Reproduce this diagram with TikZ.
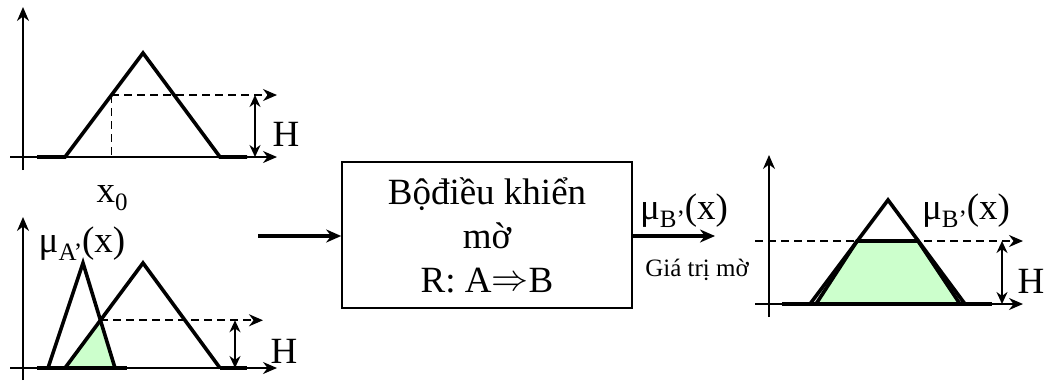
\documentclass[tikz,border=0pt]{standalone}
\usepackage{fontspec}
\setmainfont{Liberation Serif}
\usetikzlibrary{arrows.meta,calc}
\newcommand{\bigfont}{\fontsize{37}{44}\selectfont}
\newcommand{\smallfont}{\fontsize{25}{30}\selectfont}
\newcommand{\subfont}{\fontsize{25}{25}\selectfont}
\newcommand{\mulab}[1]{μ\raisebox{-0.2em}{\subfont #1’}(x)}
\newcommand{\implarrow}{\raisebox{0.05em}{\resizebox{1em}{!}{$\Rightarrow$}}}
\begin{document}
\begin{tikzpicture}[x=1pt,y=-1pt,
  axis/.style={line width=1.8pt,-{Stealth[length=14pt,width=12pt]}},
  memb/.style={line width=3.6pt,line join=miter},
  dashln/.style={line width=1.8pt,dash pattern=on 8pt off 5pt},
  darrow/.style={line width=1.8pt,{Stealth[length=12pt,width=11pt]}-{Stealth[length=12pt,width=11pt]}},
  flow/.style={line width=3.6pt,-{Stealth[length=15pt,width=13pt]}},
  lbl/.style={font=\bigfont,inner sep=0pt},
  fillg/.style={fill=green!20}
]
\useasboundingbox (0,0) rectangle (1044,381);
% ---------- top-left panel ----------
\coordinate (ay1s) at (23,170); \coordinate (ay1e) at (23,7);
\coordinate (ax1s) at (10,157); \coordinate (ax1e) at (277,157);
\coordinate (t1a) at (37,157); \coordinate (t1b) at (65,157);
\coordinate (t1p) at (143,53); \coordinate (t1c) at (220,157); \coordinate (t1d) at (247,157);
\coordinate (c1) at ($(t1b)!0.596!(t1p)$);
\coordinate (c1foot) at (c1 |- ax1s);
\coordinate (d1e) at (277,0 |- c1);
\coordinate (h1t) at (255,0 |- c1); \coordinate (h1b) at (255,157);
\draw[axis] (ay1s) -- (ay1e);
\draw[axis] (ax1s) -- (ax1e);
\draw[memb] (t1a) -- (t1b) -- (t1p) -- (t1c) -- (t1d);
\draw[dashln] (c1) -- (c1foot);
\draw[dashln,-{Stealth[length=14pt,width=12pt]}] (c1) -- (d1e);
\draw[darrow] (h1t) -- (h1b);
\node[lbl] (H1) at (286,134) {H};
\node[lbl] (x0) at (112,198) {x\raisebox{-0.2em}{\subfont 0}};
% ---------- bottom-left panel ----------
\coordinate (ay2s) at (23,380); \coordinate (ay2e) at (23,217);
\coordinate (ax2s) at (10,368); \coordinate (ax2e) at (277,368);
\coordinate (n1) at (48,368); \coordinate (np) at (83,263); \coordinate (n2) at (115,368);
\coordinate (b1) at (65,368); \coordinate (bp) at (143,263); \coordinate (b2) at (220,368);
\coordinate (I) at (intersection of np--n2 and b1--bp);
\coordinate (d2e) at (263,0 |- I);
\coordinate (h2t) at (235,0 |- I); \coordinate (h2b) at (235,368);
\coordinate (base2a) at (37,368); \coordinate (base2b) at (127,368);
\coordinate (base2c) at (247,368);
\fill[fillg] (b1) -- (I) -- (n2) -- cycle;
\draw[axis] (ay2s) -- (ay2e);
\draw[axis] (ax2s) -- (ax2e);
\draw[memb] (base2a) -- (base2b);
\draw[memb] (b2) -- (base2c);
\draw[memb] (n1) -- (np) -- (n2);
\draw[memb] (b1) -- (bp) -- (b2);
\draw[dashln,-{Stealth[length=14pt,width=12pt]}] (I) -- (d2e);
\draw[darrow] (h2t) -- (h2b);
\node[lbl] (H2) at (284,351) {H};
\node[lbl] (muA) at (82,244) {\mulab{A}};
% ---------- box ----------
\node[draw,line width=1.6pt,minimum width=290pt,minimum height=146pt,
      align=center,font=\bigfont,inner sep=0pt] (box) at (487,235)
      {Bộđiều khiển\\mờ\\R: A\implarrow B};
\coordinate (inS) at (258,236);
\coordinate (outE) at (715,236);
\draw[flow] (inS) -- (inS -| box.west);
\draw[flow] (outE -| box.east) -- (outE);
\node[lbl] (muB1) at (684,211) {\mulab{B}};
\node[font=\smallfont,inner sep=0pt] (gia) at (697,270) {Giá trị mờ};
% ---------- right panel ----------
\coordinate (ay3s) at (769,317); \coordinate (ay3e) at (769,155);
\coordinate (ax3s) at (755,304); \coordinate (ax3e) at (1023,304);
\coordinate (d3s) at (755,241); \coordinate (d3e) at (1023,241);
\coordinate (r1) at (810,304); \coordinate (rp) at (888,200); \coordinate (r2) at (965,304);
\coordinate (base3a) at (782,304); \coordinate (base3b) at (992,304);
\coordinate (q1) at (816,304); \coordinate (q2) at (857,241);
\coordinate (q3) at (918,241); \coordinate (q4) at (960,304);
\coordinate (h3t) at (1002,241); \coordinate (h3b) at (1002,304);
\draw[axis] (ay3s) -- (ay3e);
\draw[axis] (ax3s) -- (ax3e);
\draw[dashln,-{Stealth[length=14pt,width=12pt]}] (d3s) -- (d3e);
\filldraw[fillg,draw=black,line width=3.6pt,line join=miter] (q1) -- (q2) -- (q3) -- (q4) -- cycle;
\draw[memb] (base3a) -- (base3b);
\draw[memb] (r1) -- (rp) -- (r2);
\draw[darrow] (h3t) -- (h3b);
\node[lbl] (H3) at (1031,281) {H};
\node[lbl] (muB2) at (966,211) {\mulab{B}};
\end{tikzpicture}
\end{document}
